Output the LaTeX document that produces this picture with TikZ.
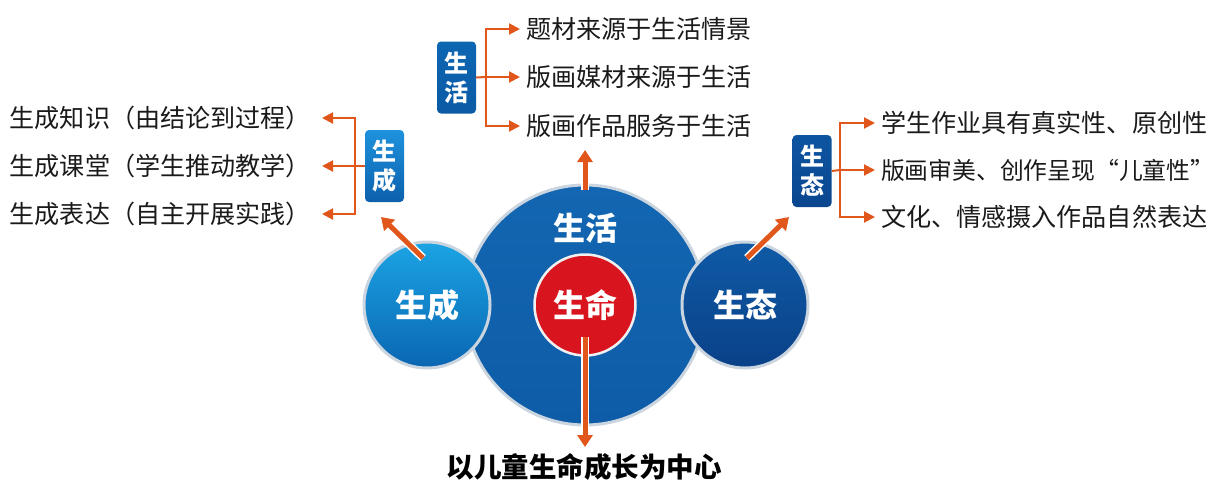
\documentclass[tikz,border=0pt]{standalone}
\usepackage{fontspec}
\setmainfont{Noto Sans CJK SC}
\usetikzlibrary{arrows.meta}
\definecolor{orng}{HTML}{E0561B}
\definecolor{rim}{HTML}{CBD5DF}
\definecolor{lifeblue}{HTML}{1366B1}
\definecolor{lifeblueb}{HTML}{0E5CA8}
\definecolor{genblue}{HTML}{1BA4E4}
\definecolor{genblueb}{HTML}{0A66B2}
\definecolor{ecoblue}{HTML}{0F5AA6}
\definecolor{ecoblueb}{HTML}{0A4188}
\definecolor{corered}{HTML}{D8141F}
\definecolor{txt}{HTML}{1A1A1A}
\definecolor{tboxa}{HTML}{0D66B2}
\definecolor{tboxb}{HTML}{0B5AA5}
\definecolor{lboxa}{HTML}{1E92DD}
\definecolor{lboxb}{HTML}{0C60AC}
\definecolor{rboxa}{HTML}{0D55A0}
\definecolor{rboxb}{HTML}{0A4690}
\begin{document}
\begin{tikzpicture}[x=1pt,y=-1pt,
  bigcirc/.style={circle,draw=rim,line width=3pt,inner sep=0pt},
  circlabel/.style={text=white,font=\fontsize{32}{36}\selectfont\bfseries},
  tagbox/.style={rounded corners=4pt,minimum width=39pt,minimum height=72pt,inner sep=0pt,
    text=white,align=center,font=\fontsize{24}{29}\selectfont\bfseries},
  itemtxt/.style={text=txt,font=\fontsize{25.1}{28}\selectfont,inner sep=0pt},
  bigarrow/.style={line width=5pt,draw=orng,-{Triangle[length=12pt,width=15pt]},
    preaction={draw=white,line width=8pt,-{Triangle[length=14pt,width=19pt]}}},
  brkline/.style={draw=orng,line width=2pt},
  brkarrow/.style={draw=orng,line width=2pt,-{Triangle[length=11pt,width=11pt]}}]
\useasboundingbox (0,0) rectangle (1220,480);

% circles
\node[bigcirc,minimum size=240pt,top color=lifeblue,bottom color=lifeblueb] (life) at (585,305) {};
\node[bigcirc,minimum size=126pt,top color=genblue,bottom color=genblueb,circlabel] (gen) at (427,305) {生成};
\node[bigcirc,minimum size=126pt,top color=ecoblue,bottom color=ecoblueb,circlabel] (eco) at (745,305) {生态};
\node[circle,draw=white!94!black,line width=2.5pt,fill=corered,minimum size=101pt,inner sep=0pt,circlabel] (core) at (585,305) {生命};
\node[circlabel] (lifelab) at (585,228) {生活};

% tag boxes
\node[tagbox,top color=tboxa,bottom color=tboxb] (tbox) at (456.5,77.5) {生\\活};
\node[tagbox,top color=lboxa,bottom color=lboxb] (lbox) at (384.5,166) {生\\成};
\node[tagbox,top color=rboxa,bottom color=rboxb] (rbox) at (812,171) {生\\态};

% top items
\node[itemtxt,anchor=west,outer xsep=6pt] (t1) at (520,29) {题材来源于生活情景};
\node[itemtxt,anchor=west,outer xsep=6pt] (t2) at (520,77) {版画媒材来源于生活};
\node[itemtxt,anchor=west,outer xsep=6pt] (t3) at (520,126) {版画作品服务于生活};
\coordinate (ts) at (486,77);
\draw[brkline] (tbox.east) -- (ts);
\draw[brkarrow] (ts) |- (t1.west);
\draw[brkarrow] (ts) -- (t2.west);
\draw[brkarrow] (ts) |- (t3.west);

% left items
\node[itemtxt,anchor=east,outer xsep=11pt] (l1) at (322,118) {生成知识（由结论到过程）};
\node[itemtxt,anchor=east,outer xsep=11pt] (l2) at (322,166) {生成课堂（学生推动教学）};
\node[itemtxt,anchor=east,outer xsep=11pt] (l3) at (322,214) {生成表达（自主开展实践）};
\coordinate (ls) at (355,166);
\draw[brkline] (lbox.west) -- (ls);
\draw[brkarrow] (ls) |- (l1.east);
\draw[brkarrow] (ls) -- (l2.east);
\draw[brkarrow] (ls) |- (l3.east);

% right items
\node[itemtxt,anchor=west,outer xsep=6pt] (r1) at (875,123) {学生作业具有真实性、原创性};
\node[itemtxt,anchor=west,outer xsep=6pt,font=\fontsize{23.8}{28}\selectfont] (r2) at (875,170) {版画审美、创作呈现“儿童性”};
\node[itemtxt,anchor=west,outer xsep=6pt] (r3) at (875,217) {文化、情感摄入作品自然表达};
\coordinate (rs) at (840,170);
\draw[brkline] (rbox.east) -- (rs);
\draw[brkarrow] (rs) |- (r1.west);
\draw[brkarrow] (rs) -- (r2.west);
\draw[brkarrow] (rs) |- (r3.west);

% bottom text
\node[text=black,font=\fontsize{27.5}{32}\selectfont\bfseries] (motto) at (584,467) {以儿童生命成长为中心};

% big arrows
\coordinate (upa) at (585,190);
\coordinate (upb) at (585,150);
\draw[bigarrow] (upa) -- (upb);
\coordinate (dna) at (585,337);
\coordinate (dnb) at (585,447);
\draw[bigarrow] (dna) -- (dnb);
\coordinate (la0) at (423,258);
\coordinate (la1) at (381,217);
\draw[bigarrow] (la0) -- (la1);
\coordinate (ra0) at (747,258);
\coordinate (ra1) at (789,217);
\draw[bigarrow] (ra0) -- (ra1);
\end{tikzpicture}
\end{document}
